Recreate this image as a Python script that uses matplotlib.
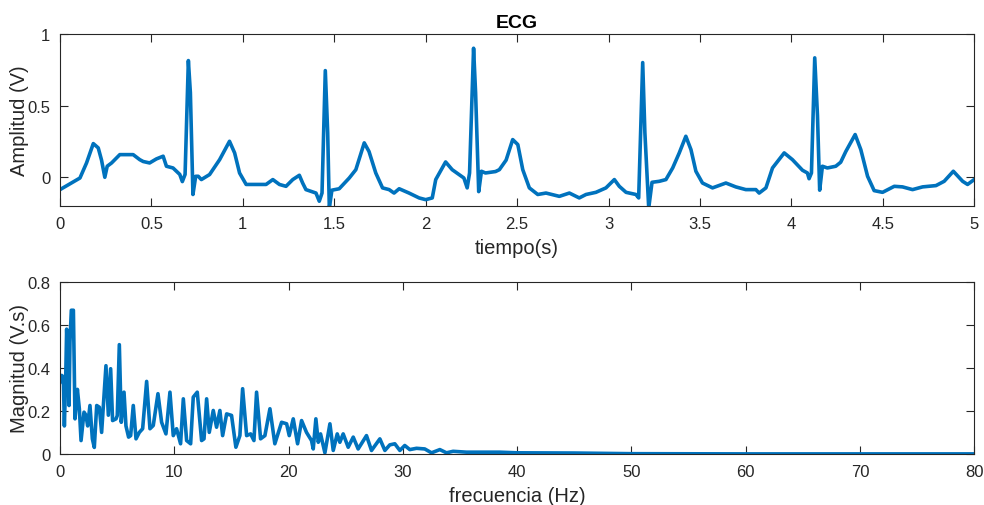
import numpy as np
import matplotlib
matplotlib.use("Agg")
import matplotlib.pyplot as plt
from matplotlib.ticker import FuncFormatter

# ECG trace (time in s, amplitude in V)
t_ecg = [0.0, 0.109, 0.145, 0.182, 0.209, 0.227, 0.245, 0.258, 0.282, 0.327,
         0.400, 0.436, 0.455, 0.490, 0.527, 0.564, 0.582, 0.618, 0.655, 0.669,
         0.684, 0.702, 0.713, 0.727, 0.742, 0.756, 0.773, 0.818, 0.873, 0.927,
         0.955, 0.982, 1.018, 1.090, 1.127, 1.164, 1.200, 1.236, 1.273, 1.309,
         1.327, 1.345, 1.400, 1.418, 1.433, 1.451, 1.464, 1.473, 1.487, 1.527,
         1.582, 1.618, 1.664, 1.690, 1.727, 1.764, 1.800, 1.827, 1.855, 1.909,
         1.964, 2.000, 2.036, 2.055, 2.109, 2.145, 2.182, 2.209, 2.227, 2.240,
         2.262, 2.273, 2.290, 2.305, 2.327, 2.382, 2.403, 2.440, 2.476, 2.504,
         2.531, 2.567, 2.613, 2.658, 2.731, 2.786, 2.840, 2.877, 2.931, 2.986,
         3.032, 3.059, 3.096, 3.150, 3.165, 3.187, 3.199, 3.220, 3.238, 3.278,
         3.314, 3.351, 3.387, 3.423, 3.451, 3.478, 3.514, 3.569, 3.642, 3.696,
         3.751, 3.806, 3.824, 3.861, 3.897, 3.961, 4.006, 4.061, 4.088, 4.097,
         4.110, 4.128, 4.143, 4.155, 4.170, 4.197, 4.243, 4.270, 4.298, 4.349,
         4.380, 4.417, 4.453, 4.499, 4.563, 4.608, 4.663, 4.718, 4.791, 4.836,
         4.886, 4.937, 4.964, 5.0]
v_ecg = [-0.086, -0.005, 0.100, 0.235, 0.205, 0.120, 0.000, 0.077, 0.100, 0.158,
         0.158, 0.123, 0.110, 0.100, 0.128, 0.147, 0.077, 0.065, 0.020, -0.030,
         0.020, 0.814, 0.590, -0.120, 0.007, 0.007, -0.016, 0.019, 0.123, 0.251,
         0.170, 0.030, -0.050, -0.050, -0.050, -0.016, -0.050, -0.063, -0.016, 0.014,
         -0.040, -0.086, -0.110, -0.167, -0.110, 0.744, 0.310, -0.214, -0.090, -0.080,
         -0.005, 0.053, 0.240, 0.180, 0.030, -0.074, -0.086, -0.110, -0.080, -0.110,
         -0.144, -0.156, -0.144, -0.016, 0.107, 0.053, 0.019, -0.005, -0.074, 0.030,
         0.900, 0.590, -0.100, 0.042, 0.030, 0.040, 0.053, 0.120, 0.263, 0.228,
         0.053, -0.074, -0.120, -0.110, -0.133, -0.110, -0.144, -0.120, -0.105, -0.074,
         -0.016, -0.063, -0.105, -0.120, -0.144, 0.800, 0.310, -0.214, -0.035, -0.028,
         -0.016, 0.065, 0.170, 0.286, 0.193, 0.042, -0.040, -0.074, -0.040, -0.067,
         -0.086, -0.086, -0.110, -0.074, 0.065, 0.170, 0.123, 0.049, 0.030, -0.010,
         0.030, 0.833, 0.430, -0.090, 0.077, 0.065, 0.077, 0.105, 0.180, 0.298,
         0.193, 0.007, -0.093, -0.105, -0.063, -0.067, -0.086, -0.067, -0.058, -0.028,
         0.042, -0.028, -0.050, -0.016]

# magnitude spectrum (Hz, V.s)
f_fft = [0.0, 0.15, 0.29, 0.38, 0.50, 0.58, 0.70, 0.79, 0.87, 0.99,
         1.17, 1.31, 1.52, 1.69, 1.84, 2.10, 2.27, 2.42, 2.62, 2.83,
         3.00, 3.21, 3.44, 3.64, 4.02, 4.23, 4.43, 4.60, 4.90, 5.01,
         5.19, 5.36, 5.60, 5.77, 6.00, 6.18, 6.41, 6.65, 6.94, 7.23,
         7.58, 7.87, 8.16, 8.57, 8.89, 9.27, 9.62, 9.91, 10.20, 10.55,
         10.79, 11.08, 11.43, 11.66, 12.01, 12.39, 12.60, 12.83, 13.06, 13.41,
         13.70, 13.99, 14.23, 14.58, 15.01, 15.39, 15.74, 15.98, 16.33, 16.68,
         16.97, 17.20, 17.55, 17.93, 18.37, 18.80, 19.39, 19.83, 20.06, 20.41,
         20.79, 21.14, 21.57, 22.01, 22.16, 22.39, 22.60, 22.80, 23.18, 23.62,
         23.91, 24.26, 24.49, 24.78, 25.22, 25.66, 26.09, 26.82, 27.26, 27.99,
         28.43, 28.86, 29.30, 29.74, 30.17, 30.61, 31.20, 31.92, 32.51, 33.24,
         33.82, 34.40, 35.57, 36.73, 38.48, 40.0, 45.0, 50.0, 60.0, 70.0, 80.0]
m_fft = [0.334, 0.365, 0.357, 0.130, 0.360, 0.580, 0.390, 0.225, 0.520, 0.668,
         0.668, 0.163, 0.300, 0.210, 0.062, 0.194, 0.180, 0.130, 0.225, 0.070,
         0.030, 0.225, 0.217, 0.100, 0.410, 0.180, 0.396, 0.155, 0.163, 0.178,
         0.508, 0.147, 0.287, 0.130, 0.078, 0.085, 0.225, 0.070, 0.100, 0.117,
         0.337, 0.117, 0.132, 0.280, 0.147, 0.093, 0.287, 0.085, 0.117, 0.047,
         0.256, 0.062, 0.047, 0.264, 0.287, 0.062, 0.070, 0.256, 0.100, 0.202,
         0.124, 0.202, 0.085, 0.186, 0.179, 0.031, 0.085, 0.303, 0.085, 0.093,
         0.062, 0.287, 0.070, 0.085, 0.210, 0.047, 0.147, 0.140, 0.085, 0.163,
         0.047, 0.155, 0.100, 0.062, 0.023, 0.163, 0.054, 0.093, 0.005, 0.140,
         0.016, 0.093, 0.054, 0.093, 0.031, 0.078, 0.023, 0.085, 0.016, 0.070,
         0.016, 0.042, 0.047, 0.016, 0.039, 0.020, 0.026, 0.023, 0.005, 0.020,
         0.005, 0.012, 0.008, 0.008, 0.008, 0.005, 0.004, 0.001, 0.0, 0.0, 0.0]

plt.rcParams['font.family'] = ['Liberation Sans', 'DejaVu Sans']
AX_COL = '#262626'
LINE_COL = '#0072BD'

fig = plt.figure(figsize=(9.84, 5.06), dpi=100)
ax1 = fig.add_axes([0.061, 0.591, 0.929, 0.340])
ax2 = fig.add_axes([0.061, 0.101, 0.929, 0.340])

def fmt(v, pos):
    return '%g' % round(v, 4)

def style(ax):
    for s in ax.spines.values():
        s.set_color(AX_COL)
        s.set_linewidth(0.8)
    ax.tick_params(direction='in', top=True, right=True, length=6,
                   width=0.8, color=AX_COL, labelcolor=AX_COL, labelsize=12, pad=7)
    ax.xaxis.set_major_formatter(FuncFormatter(fmt))
    ax.yaxis.set_major_formatter(FuncFormatter(fmt))
    ax.yaxis.set_label_coords(-0.034, 0.5)

ax1.plot(t_ecg, v_ecg, color=LINE_COL, lw=2.6, solid_joinstyle='round')
ax1.set_xlim(0, 5)
ax1.set_ylim(-0.2, 1)
ax1.set_xticks(np.arange(0, 5.01, 0.5))
ax1.set_yticks([0, 0.5, 1])
ax1.set_xlabel('tiempo(s)', fontsize=14.5, color=AX_COL, labelpad=5)
ax1.set_ylabel('Amplitud (V)', fontsize=14.5, color=AX_COL)
ax1.set_title('ECG', fontsize=14, fontweight='bold', color='black', pad=5)
style(ax1)

ax2.plot(f_fft, m_fft, color=LINE_COL, lw=2.6, solid_joinstyle='round')
ax2.set_xlim(0, 80)
ax2.set_ylim(0, 0.8)
ax2.set_xticks(np.arange(0, 81, 10))
ax2.set_yticks(np.arange(0, 0.81, 0.2))
ax2.set_xlabel('frecuencia (Hz)', fontsize=14.5, color=AX_COL, labelpad=5)
ax2.set_ylabel('Magnitud (V.s)', fontsize=14.5, color=AX_COL)
style(ax2)

fig.savefig('out.png', dpi=100)
